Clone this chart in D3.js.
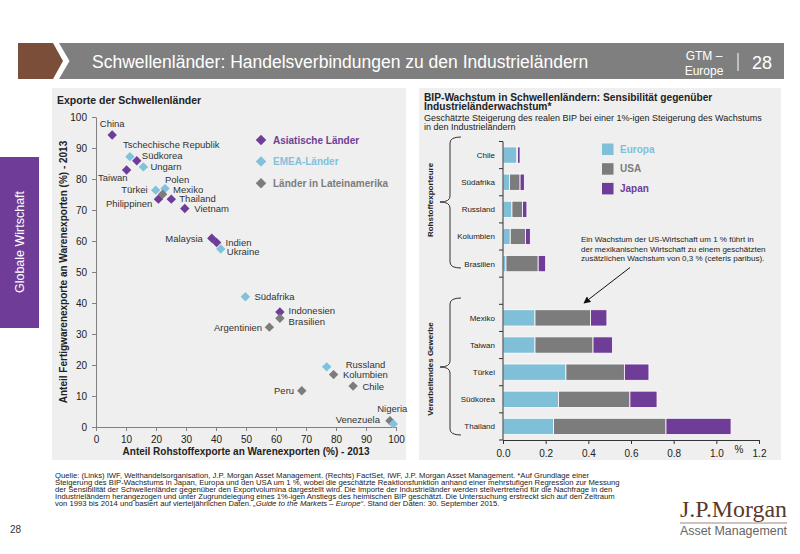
<!DOCTYPE html>
<html>
<head>
<meta charset="utf-8">
<script src="https://cdn.jsdelivr.net/npm/d3@7"></script>
<style>
  body { margin: 0; background: #fff; }
  svg { display: block; font-family: "Liberation Sans", Arial, sans-serif; }
</style>
</head>
<body>
<div id="visualization"></div>
<script>
// Scatter data (left panel)
const scatterNames = ["China", "Tschechische Republik", "Südkorea", "Ungarn", "Taiwan", "Türkei", "Polen", "Mexiko",
  "Philippinen", "Thailand", "Vietnam", "Malaysia", "Indien", "Ukraine", "Südafrika", "Indonesien", "Brasilien",
  "Argentinien", "Russland", "Kolumbien", "Chile", "Peru", "Venezuela", "Nigeria"];
const scatterGroups = ["asia", "emea", "asia", "emea", "asia", "emea", "emea", "latam",
  "asia", "asia", "asia", "asia", "asia", "emea", "emea", "asia", "latam",
  "latam", "emea", "latam", "latam", "latam", "latam", "emea"];
const rawExportShare = [5.4, 11.3, 13.6, 15.8, 10.2, 19.9, 23.0, 22.2, 20.8, 25.1, 29.6, 38.6, 40.2, 41.6,
  49.8, 61.3, 61.3, 57.8, 76.9, 79.2, 85.7, 68.6, 98.0, 99.1];
const mfgExportShare = [94.2, 87.2, 85.9, 83.9, 82.9, 76.4, 76.9, 75.1, 73.5, 73.5, 70.5, 60.9, 59.5, 57.4,
  42.0, 37.1, 35.1, 32.2, 19.4, 16.9, 13.2, 11.7, 2.0, 1.0];
const scatterTicks = [0, 10, 20, 30, 40, 50, 60, 70, 80, 90, 100];
const groupKeys = ["asia", "emea", "latam"];
const groupLabels = ["Asiatische Länder", "EMEA-Länder", "Länder in Lateinamerika"];

// Bar data (right panel)
const rohstoffLaender = ["Chile", "Südafrika", "Russland", "Kolumbien", "Brasilien"];
const gewerbeLaender = ["Mexiko", "Taiwan", "Türkei", "Südkorea", "Thailand"];
const europaEffekt = [0.065, 0.03, 0.042, 0.034, 0.014, 0.15, 0.15, 0.295, 0.26, 0.237];
const usaEffekt = [0.003, 0.05, 0.05, 0.071, 0.151, 0.26, 0.272, 0.274, 0.335, 0.527];
const japanEffekt = [0.012, 0.02, 0.02, 0.023, 0.035, 0.077, 0.091, 0.115, 0.127, 0.305];
const barTicks = [0, 0.2, 0.4, 0.6, 0.8, 1.0, 1.2];
const barKeys = ["Europa", "USA", "Japan"];

const purple = "#6f3d97";
const blue = "#80c2dc";
const grey = "#7c7c7c";
const groupColor = d3.scaleOrdinal().domain(groupKeys).range([purple, blue, grey]);
const barColor = d3.scaleOrdinal().domain(barKeys).range(["#7fbfd8", grey, purple]);

// label placement next to each diamond: [anchor, dx, dy]
const labelPos = {
  "China": ["middle", 0, -8], "Tschechische Republik": ["start", -7, -9], "Südkorea": ["start", 5, -2],
  "Ungarn": ["start", 7, 3.5], "Taiwan": ["end", 1, 11], "Türkei": ["end", -8, 3], "Polen": ["start", 0, -6],
  "Mexiko": ["start", 10.5, -1], "Philippinen": ["end", -6, 7.7], "Thailand": ["start", 8, 3],
  "Vietnam": ["start", 9.5, 3.2], "Malaysia": ["end", -9, 3.4], "Indien": ["start", 9, 3.3],
  "Ukraine": ["start", 6, 5.5], "Südafrika": ["start", 9, 3.3], "Indonesien": ["start", 8.7, 2.5],
  "Brasilien": ["start", 8.7, 7], "Argentinien": ["end", -7.3, 3.7], "Russland": ["start", 19, 1.3],
  "Kolumbien": ["start", 9.3, 3.6], "Chile": ["start", 9.3, 3.7], "Peru": ["end", -7.7, 3.3],
  "Venezuela": ["end", -10, 2.6], "Nigeria": ["middle", -1, -12]
};

const width = 800;
const height = 554;

const svg = d3.select("#visualization")
  .append("svg")
  .attr("width", width)
  .attr("height", height);

// Header band
svg.append("polygon")
  .attr("points", "18,43 53,43 63,61 53,79 18,79")
  .attr("fill", "#7a4e39");
svg.append("polygon")
  .attr("points", "59,43 784,43 784,79 59,79 69.5,61")
  .attr("fill", "#7f7f7f");
svg.append("text")
  .attr("x", 92).attr("y", 68)
  .attr("font-size", 17.5).attr("fill", "#fff")
  .text("Schwellenländer: Handelsverbindungen zu den Industrieländern");
svg.append("text")
  .attr("x", 704).attr("y", 60)
  .attr("text-anchor", "middle")
  .attr("font-family", "'Liberation Sans Narrow', 'Liberation Sans', Arial")
  .attr("font-size", 12).attr("fill", "#fff")
  .text("GTM –");
svg.append("text")
  .attr("x", 704).attr("y", 75)
  .attr("text-anchor", "middle")
  .attr("font-family", "'Liberation Sans Narrow', 'Liberation Sans', Arial")
  .attr("font-size", 12).attr("fill", "#fff")
  .text("Europe");
svg.append("line")
  .attr("x1", 738).attr("x2", 738).attr("y1", 53).attr("y2", 71)
  .attr("stroke", "#fff").attr("stroke-width", 1);
svg.append("text")
  .attr("x", 752).attr("y", 69)
  .attr("font-family", "'Liberation Sans Narrow', 'Liberation Sans', Arial")
  .attr("font-size", 18).attr("fill", "#fff")
  .text("28");

// Side tab
svg.append("rect")
  .attr("x", 0).attr("y", 157).attr("width", 39).attr("height", 171)
  .attr("fill", "#6f3d97");
svg.append("text")
  .attr("transform", "translate(24,242) rotate(-90)")
  .attr("text-anchor", "middle")
  .attr("font-size", 12.5).attr("fill", "#fff")
  .text("Globale Wirtschaft");

// Panels
svg.append("rect").attr("x", 52).attr("y", 88).attr("width", 354).attr("height", 372).attr("fill", "#efefef");
svg.append("rect").attr("x", 419).attr("y", 88).attr("width", 362).attr("height", 372).attr("fill", "#efefef");

// ---------- Left: scatter ----------
const x = d3.scaleLinear().domain([0, 100]).range([96, 396]);
const y = d3.scaleLinear().domain([0, 100]).range([427, 117]);

svg.append("text")
  .attr("x", 57).attr("y", 104)
  .attr("font-size", 10.5).attr("font-weight", "bold").attr("fill", "#222")
  .text("Exporte der Schwellenländer");

const xAxis = svg.append("g")
  .attr("transform", `translate(0, ${y(0)})`)
  .call(d3.axisBottom(x).tickValues(scatterTicks).tickSize(4).tickSizeOuter(0).tickPadding(5));
const yAxis = svg.append("g")
  .attr("transform", `translate(${x(0)}, 0)`)
  .call(d3.axisLeft(y).tickValues(scatterTicks).tickSize(4).tickSizeOuter(0).tickPadding(5));

[xAxis, yAxis].forEach(g => {
  g.select(".domain").attr("stroke", "#808080");
  g.selectAll(".tick line").attr("stroke", "#808080");
  g.selectAll(".tick text")
    .attr("font-size", 10).attr("fill", "#222")
    .attr("font-family", "'Liberation Sans', Arial");
});

svg.append("text")
  .attr("x", 246).attr("y", 455)
  .attr("text-anchor", "middle")
  .attr("font-size", 10).attr("font-weight", "bold").attr("fill", "#222")
  .text("Anteil Rohstoffexporte an Warenexporten (%) - 2013");
svg.append("text")
  .attr("transform", "translate(67,272) rotate(-90)")
  .attr("text-anchor", "middle")
  .attr("font-size", 10).attr("font-weight", "bold").attr("fill", "#222")
  .text("Anteil Fertigwarenexporte an Warenexporten (%) - 2013");

const points = scatterNames.map((n, i) => ({
  name: n, group: scatterGroups[i], raw: rawExportShare[i], mfg: mfgExportShare[i]
}));

const diamond = d3.symbol().type(d3.symbolSquare).size(44);

svg.append("g").selectAll("path")
  .data(points)
  .enter()
  .append("path")
  .attr("d", diamond)
  .attr("transform", d => `translate(${x(d.raw)},${y(d.mfg)}) rotate(45)`)
  .attr("fill", d => groupColor(d.group));

svg.append("g").selectAll("text")
  .data(points)
  .enter()
  .append("text")
  .attr("x", d => x(d.raw) + labelPos[d.name][1])
  .attr("y", d => y(d.mfg) + labelPos[d.name][2])
  .attr("text-anchor", d => labelPos[d.name][0])
  .attr("font-size", 9.5).attr("fill", "#333")
  .text(d => d.name);

// legend
const leg = svg.append("g").selectAll("g")
  .data(groupKeys)
  .enter()
  .append("g")
  .attr("transform", (d, i) => `translate(261, ${140 + i * 21.6})`);
leg.append("path")
  .attr("d", d3.symbol().type(d3.symbolSquare).size(55))
  .attr("transform", "rotate(45)")
  .attr("fill", d => groupColor(d));
leg.append("text")
  .attr("x", 12).attr("y", 3.6)
  .attr("font-size", 10).attr("font-weight", "bold")
  .attr("fill", d => groupColor(d))
  .text((d, i) => groupLabels[i]);

// ---------- Right: stacked bars ----------
svg.append("text")
  .attr("x", 424).attr("y", 100.5)
  .attr("font-size", 10.2).attr("font-weight", "bold").attr("fill", "#222")
  .text("BIP-Wachstum in Schwellenländern: Sensibilität gegenüber");
svg.append("text")
  .attr("x", 424).attr("y", 109.5)
  .attr("font-size", 10.2).attr("font-weight", "bold").attr("fill", "#222")
  .text("Industrieländerwachstum*");
svg.append("text")
  .attr("x", 424).attr("y", 120.5)
  .attr("font-size", 9).attr("fill", "#222")
  .text("Geschätzte Steigerung des realen BIP bei einer 1%-igen Steigerung des Wachstums");
svg.append("text")
  .attr("x", 424).attr("y", 130)
  .attr("font-size", 9).attr("fill", "#222")
  .text("in den Industrieländern");

const barCats = [...rohstoffLaender, "gap", ...gewerbeLaender];
const barRows = [...rohstoffLaender, ...gewerbeLaender].map((c, i) => ({
  land: c, Europa: europaEffekt[i], USA: usaEffekt[i], Japan: japanEffekt[i]
}));

const bx = d3.scaleLinear().domain([0, 1.2]).range([503, 759]);
const by = d3.scaleBand().domain(barCats).range([141.5, 440]).paddingInner(0.4).paddingOuter(0.2);

const series = d3.stack().keys(barKeys)(barRows);

svg.append("g").selectAll("g")
  .data(series)
  .enter()
  .append("g")
  .attr("fill", d => barColor(d.key))
  .selectAll("rect")
  .data(d => d)
  .enter()
  .append("rect")
  .attr("x", d => bx(d[0]))
  .attr("y", d => by(d.data.land))
  .attr("width", d => Math.max(0, bx(d[1]) - bx(d[0])))
  .attr("height", by.bandwidth())
  .attr("stroke", "#fff")
  .attr("stroke-width", 0.8);

// bar x axis
const bxAxis = svg.append("g")
  .attr("transform", "translate(0, 440)")
  .call(d3.axisBottom(bx).tickValues(barTicks).tickFormat(d3.format(".1f")).tickSize(4).tickSizeOuter(0).tickPadding(6));
bxAxis.select(".domain").attr("stroke", "#333");
bxAxis.selectAll(".tick line").attr("stroke", "#333");
bxAxis.selectAll(".tick text")
  .attr("font-size", 10).attr("fill", "#222")
  .attr("font-family", "'Liberation Sans', Arial");
svg.append("text")
  .attr("x", 739).attr("y", 453)
  .attr("text-anchor", "middle")
  .attr("font-size", 10).attr("fill", "#222")
  .text("%");

// bar y axis with ticks at band boundaries
const step = by.step();
const boundaries = barCats.map(c => by(c) - step * by.paddingInner() / 2).concat([by(barCats[barCats.length - 1]) + by.bandwidth() + step * by.paddingInner() / 2]);
svg.append("line")
  .attr("x1", bx(0)).attr("x2", bx(0))
  .attr("y1", by.range()[0]).attr("y2", 440)
  .attr("stroke", "#333");
svg.append("g").selectAll("line")
  .data(boundaries)
  .enter()
  .append("line")
  .attr("x1", bx(0) - 4).attr("x2", bx(0))
  .attr("y1", d => d).attr("y2", d => d)
  .attr("stroke", "#333");

svg.append("g").selectAll("text")
  .data(barRows)
  .enter()
  .append("text")
  .attr("x", 495)
  .attr("y", d => by(d.land) + by.bandwidth() / 2 + 3)
  .attr("text-anchor", "end")
  .attr("font-size", 8).attr("fill", "#222")
  .text(d => d.land);

// braces and group labels
function brace(top, mid, bottom) {
  const xr = 461, xl = 450, tip = 440;
  return `M${xr},${top} Q${xl},${top} ${xl},${top + 6} L${xl},${mid - 6} Q${xl},${mid} ${tip},${mid}` +
    ` Q${xl},${mid} ${xl},${mid + 6} L${xl},${bottom - 6} Q${xl},${bottom} ${xr},${bottom}`;
}
svg.append("path").attr("d", brace(137, 202, 268)).attr("fill", "none").attr("stroke", "#333");
svg.append("path").attr("d", brace(298, 367, 435)).attr("fill", "none").attr("stroke", "#333");
svg.append("text")
  .attr("transform", "translate(433,200) rotate(-90)")
  .attr("text-anchor", "middle")
  .attr("font-size", 8).attr("font-weight", "bold").attr("fill", "#222")
  .text("Rohstoffexporteure");
svg.append("text")
  .attr("transform", "translate(433,369) rotate(-90)")
  .attr("text-anchor", "middle")
  .attr("font-size", 8).attr("font-weight", "bold").attr("fill", "#222")
  .text("Verarbeitendes Gewerbe");

// bar legend
const bleg = svg.append("g").selectAll("g")
  .data(barKeys)
  .enter()
  .append("g")
  .attr("transform", (d, i) => `translate(602, ${143.5 + i * 19.7})`);
bleg.append("rect")
  .attr("width", 11.5).attr("height", 11.5)
  .attr("fill", d => barColor(d));
bleg.append("text")
  .attr("x", 18).attr("y", 9)
  .attr("font-size", 10).attr("font-weight", "bold")
  .attr("fill", d => d === "Europa" ? "#7fbfd8" : barColor(d))
  .text(d => d);

// annotation
const note = ["Ein Wachstum der US-Wirtschaft um 1 % führt in",
  "der mexikanischen Wirtschaft zu einem geschätzten",
  "zusätzlichen Wachstum von 0,3 % (ceteris paribus)."];
svg.append("g").selectAll("text")
  .data(note)
  .enter()
  .append("text")
  .attr("x", 581)
  .attr("y", (d, i) => 242 + i * 9.7)
  .attr("font-size", 8).attr("fill", "#222")
  .text(d => d);

svg.append("defs").append("marker")
  .attr("id", "arrow")
  .attr("viewBox", "0 0 10 10")
  .attr("refX", 9).attr("refY", 5)
  .attr("markerWidth", 7).attr("markerHeight", 7)
  .attr("orient", "auto")
  .append("path")
  .attr("d", "M0,0 L10,5 L0,10 Z")
  .attr("fill", "#111");
svg.append("line")
  .attr("x1", 630).attr("y1", 267.5)
  .attr("x2", 584).attr("y2", 303)
  .attr("stroke", "#111").attr("stroke-width", 1)
  .attr("marker-end", "url(#arrow)");

// ---------- Footer ----------
const footer = svg.append("text")
  .attr("font-family", "'Liberation Sans Narrow', 'Liberation Sans', Arial")
  .attr("font-size", 7.7).attr("fill", "#222");
const footLines = [
  "Quelle: (Links) IWF, Welthandelsorganisation, J.P. Morgan Asset Management. (Rechts) FactSet, IWF, J.P. Morgan Asset Management. *Auf Grundlage einer",
  "Steigerung des BIP-Wachstums in Japan, Europa und den USA um 1 %, wobei die geschätzte Reaktionsfunktion anhand einer mehrstufigen Regression zur Messung",
  "der Sensibilität der Schwellenländer gegenüber den Exportvolumina dargestellt wird. Die Importe der Industrieländer werden stellvertretend für die Nachfrage in den",
  "Industrieländern herangezogen und unter Zugrundelegung eines 1%-igen Anstiegs des heimischen BIP geschätzt. Die Untersuchung erstreckt sich auf den Zeitraum"
];
footLines.forEach((l, i) => {
  footer.append("tspan").attr("x", 55).attr("y", 477.5 + i * 7.2).text(l);
});
footer.append("tspan").attr("x", 55).attr("y", 477.5 + 4 * 7.2).text("von 1993 bis 2014 und basiert auf vierteljährlichen Daten. ");
footer.append("tspan").attr("font-style", "italic").text("„Guide to the Markets – Europe“");
footer.append("tspan").text(". Stand der Daten: 30. September 2015.");

svg.append("text")
  .attr("x", 10).attr("y", 533)
  .attr("font-size", 10).attr("fill", "#333")
  .text("28");

// logo
svg.append("text")
  .attr("x", 680).attr("y", 517)
  .attr("font-family", "'Liberation Serif', 'DejaVu Serif', serif")
  .attr("font-size", 23).attr("fill", "#5b3a29")
  .attr("textLength", 107).attr("lengthAdjust", "spacingAndGlyphs")
  .text("J.P.Morgan");
svg.append("line")
  .attr("x1", 680).attr("x2", 787).attr("y1", 523).attr("y2", 523)
  .attr("stroke", "#8a6b58").attr("stroke-width", 0.8);
svg.append("text")
  .attr("x", 680).attr("y", 535)
  .attr("font-family", "'Liberation Sans Narrow', 'Liberation Sans', Arial")
  .attr("font-size", 12).attr("fill", "#666")
  .attr("textLength", 107).attr("lengthAdjust", "spacingAndGlyphs")
  .text("Asset Management");
</script>
</body>
</html>
